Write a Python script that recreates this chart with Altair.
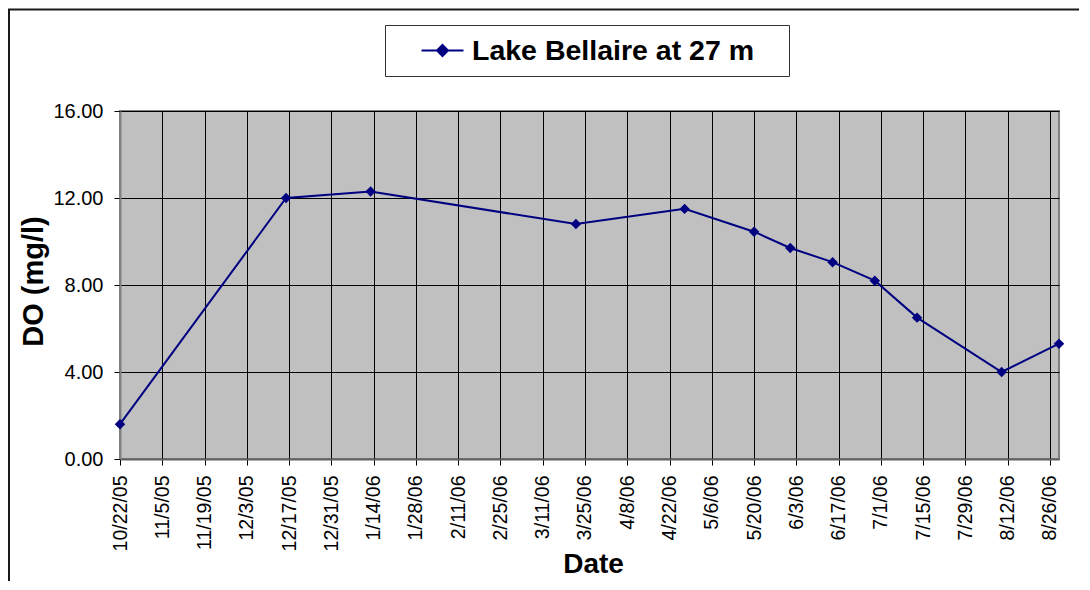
import altair as alt
import pandas as pd

# ---- data ----
dates = ["2005-10-22", "2005-12-16", "2006-01-13", "2006-03-22", "2006-04-27",
         "2006-05-20", "2006-06-01", "2006-06-15", "2006-06-29", "2006-07-13",
         "2006-08-10", "2006-08-29"]
do_values = [1.6, 12.0, 12.3, 10.8, 11.5, 10.45, 9.7, 9.05, 8.2, 6.5, 4.0, 5.3]
series_name = "Lake Bellaire at 27 m"

x_ticks = ["2005-10-22", "2005-11-05", "2005-11-19", "2005-12-03", "2005-12-17",
           "2005-12-31", "2006-01-14", "2006-01-28", "2006-02-11", "2006-02-25",
           "2006-03-11", "2006-03-25", "2006-04-08", "2006-04-22", "2006-05-06",
           "2006-05-20", "2006-06-03", "2006-06-17", "2006-07-01", "2006-07-15",
           "2006-07-29", "2006-08-12", "2006-08-26"]
x_domain = ["2005-10-22", "2006-08-29"]
y_ticks = [0, 4, 8, 12, 16]
y_domain = [0, 16]

FONT = "Liberation Sans"
NAVY = "#000080"


def dt(s):
    d = pd.Timestamp(s)
    return alt.DateTime(year=d.year, month=d.month, date=d.day, utc=True)


df = pd.DataFrame({"date": dates, "DO": do_values, "series": [series_name] * len(dates)})

x_enc = alt.X(
    "date:T",
    scale=alt.Scale(type="utc", domain=[dt(s) for s in x_domain]),
    axis=alt.Axis(
        values=[dt(s) for s in x_ticks],
        format="%-m/%-d/%y",
        labelAngle=270,
        labelFont=FONT, labelFontSize=19.5, labelColor="black",
        labelPadding=10, labelFlush=False, labelOverlap=False,
        tickSize=6, tickColor="black",
        grid=True, gridColor="black", gridWidth=1,
        domainColor="#606060", domainWidth=2,
        title="Date", titleFont=FONT, titleFontSize=28, titleFontWeight="bold",
        titleColor="black", titleX=473, titleY=113, titleBaseline="alphabetic",
        titleAlign="center",
    ),
)
y_enc = alt.Y(
    "DO:Q",
    scale=alt.Scale(domain=y_domain, nice=False, zero=True),
    axis=alt.Axis(
        values=y_ticks,
        format=".2f",
        labelFont=FONT, labelFontSize=20, labelColor="black",
        labelPadding=11, labelOverlap=False,
        tickSize=6, tickColor="black",
        grid=True, gridColor="black", gridWidth=1,
        domainColor="#808080", domainWidth=2,
        title="DO (mg/l)", titleFont=FONT, titleFontSize=29, titleFontWeight="bold",
        titleColor="black", titleX=-78, titleY=170, titleBaseline="alphabetic",
        titleAlign="center",
    ),
)
color_enc = alt.Color(
    "series:N",
    scale=alt.Scale(range=[NAVY]),
    legend=alt.Legend(
        title=None,
        orient="none", legendX=265, legendY=-86,
        padding=11, strokeColor="#333333", fillColor="white",
        # line + diamond glyph; the final zero-length segment only widens the box
        symbolType="M-1.585,0H1.585M0,-0.415L0.415,0L0,0.415L-0.415,0ZM25,0L25,0",
        symbolSize=702, symbolStrokeWidth=2, symbolOffset=32,
        symbolFillColor=NAVY, symbolStrokeColor=NAVY,
        labelOffset=15,
        labelFont=FONT, labelFontSize=28.5, labelFontWeight="bold",
        labelColor="black", labelLimit=600,
    ),
)

base = alt.Chart(df)
line = base.mark_line(strokeWidth=2).encode(x=x_enc, y=y_enc, color=color_enc)
points = base.mark_point(shape="diamond", filled=True, size=110, opacity=1).encode(
    x=x_enc, y=y_enc, color=color_enc
)

frame = alt.Chart(pd.DataFrame({"k": [0]})).mark_rect(
    fillOpacity=0, stroke="#1a1a1a", strokeWidth=2
).encode(
    x=alt.value(-111), x2=alt.value(2000), y=alt.value(-101.5), y2=alt.value(2000)
)

chart = (
    alt.layer(frame, line, points)
    .properties(
        width=939, height=348,
        autosize=alt.AutoSizeParams(type="none"),
        padding={"left": 112, "top": 103, "right": 20, "bottom": 122},
        background="white",
    )
    .configure(font=FONT)
    .configure_view(fill="#C0C0C0", stroke="#808080", strokeWidth=2)
)

chart.save("out.html", embed_options={"renderer": "svg", "actions": False})
